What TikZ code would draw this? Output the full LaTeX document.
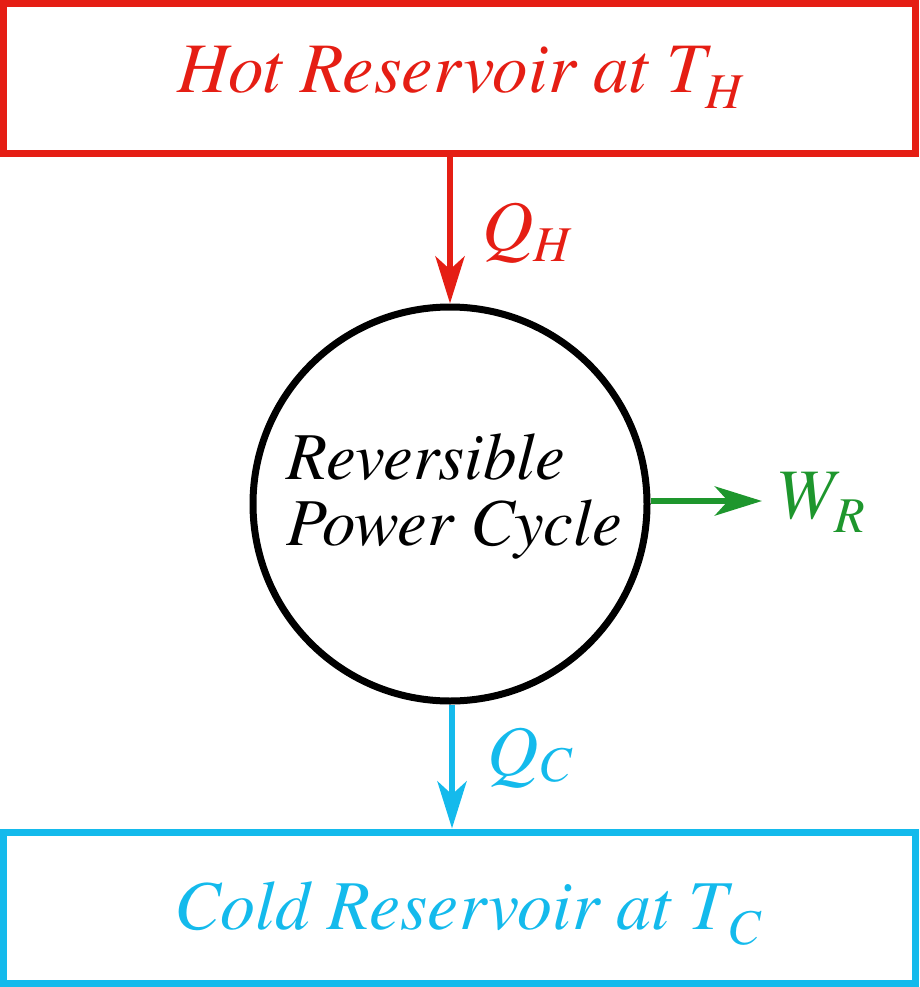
\documentclass[tikz,border=0pt]{standalone}
\usepackage{fontspec}
\setmainfont{texgyretermes}[Extension=.otf, UprightFont=*-regular, ItalicFont=*-italic, BoldFont=*-bold, BoldItalicFont=*-bolditalic]
\usetikzlibrary{arrows.meta}
\definecolor{hotc}{RGB}{229,30,20}
\definecolor{coldc}{RGB}{20,186,236}
\definecolor{workc}{RGB}{30,150,45}
\newcommand\subx[2]{\raisebox{-#1}{\fontsize{50}{50}\selectfont #2}}
\tikzset{
  resbox/.style={draw, line width=7pt, minimum width=912pt, inner sep=0pt},
  bigtext/.style={anchor=base west, inner sep=0pt, font=\fontsize{71}{71}\selectfont\itshape},
  cyctext/.style={anchor=base west, inner sep=0pt, font=\fontsize{67}{67}\selectfont\itshape},
  flow/.style={line width=6.5pt, -{Stealth[length=47pt, width=29pt, inset=13pt]}},
}
\begin{document}
\begin{tikzpicture}[x=1pt, y=-1pt]
\useasboundingbox (0,0) rectangle (919,987);
% reservoirs
\node[resbox, hotc, minimum height=150.5pt] (hot) at (459.5,78.75) {};
\node[resbox, coldc, minimum height=151.5pt] (cold) at (459.5,907.75) {};
% cycle
\node[draw, circle, line width=7pt, minimum size=394pt, inner sep=0pt] (circ) at (450,504) {};
% texts
\node[bigtext, text=hotc] (hottxt) at (177,93) {Hot Reservoir at T\subx{16pt}{H}};
\node[bigtext, text=coldc, font=\fontsize{70}{70}\selectfont\itshape] (coldtxt) at (174,929) {Cold Reservoir at T\subx{15pt}{C}};
\node[cyctext] (rev) at (286,479) {Reversible};
\node[cyctext] (pow) at (286,545) {Power Cycle};
% flows
\draw[flow, hotc] (circ.north |- hot.south) -- (circ.north);
\node[bigtext, text=hotc] (qh) at (482,250) {Q\subx{11pt}{H}};
\draw[flow, coldc] ([xshift=2pt]circ.south) -- ([xshift=2pt]circ.south |- cold.north);
\node[bigtext, text=coldc] (qc) at (487,775) {Q\subx{6pt}{C}};
\coordinate (wend) at (762,501);
\draw[flow, workc] (circ.east |- wend) -- (wend);
\node[bigtext, text=workc] (wr) at (775,518) {W\subx{14pt}{R}};
\end{tikzpicture}
\end{document}
